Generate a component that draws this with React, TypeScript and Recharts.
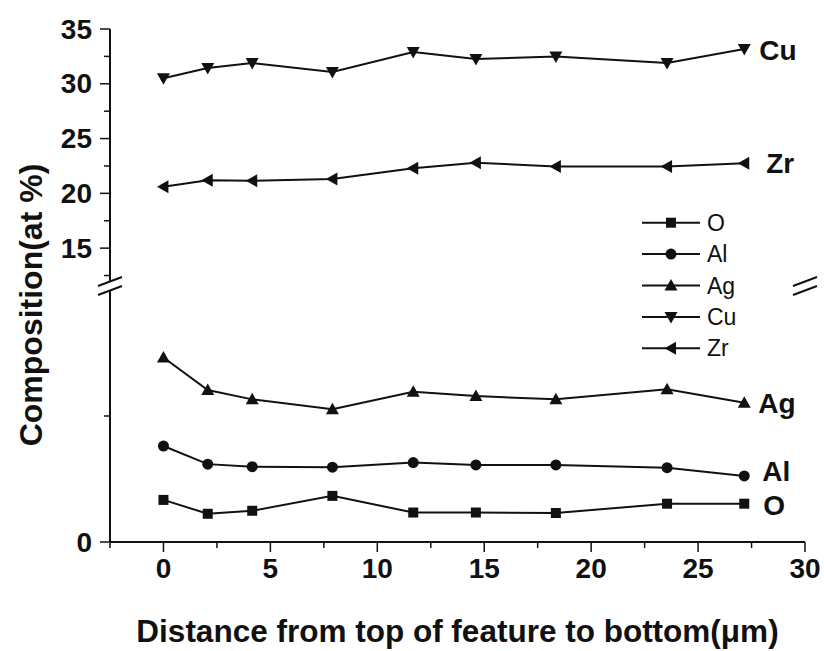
import React from "react";
import { LineChart, Line, XAxis, YAxis, LabelList } from "recharts";

// distance from top of feature (µm) and composition (at %)
const distance = [0, 2.07, 4.15, 7.9, 11.68, 14.61, 18.35, 23.55, 27.16];
const oxygen = [1.67, 1.12, 1.24, 1.83, 1.17, 1.17, 1.15, 1.52, 1.52];
const aluminium = [3.81, 3.09, 2.99, 2.97, 3.15, 3.06, 3.06, 2.95, 2.62];
const silver = [7.32, 6.03, 5.66, 5.27, 5.96, 5.79, 5.66, 6.06, 5.53];
const copper = [30.5, 31.44, 31.9, 31.07, 32.9, 32.26, 32.5, 31.9, 33.17];
const zirconium = [20.6, 21.2, 21.15, 21.3, 22.3, 22.8, 22.44, 22.44, 22.75];

const upperTicks = [12.5, 15, 17.5, 20, 22.5, 25, 27.5, 30, 32.5, 35];
const upperLabels = [15, 20, 25, 30, 35];
const lowerTicks = [0, 5];
const lowerLabels = [0];
const xTicks = [-2.5, 0, 2.5, 5, 7.5, 10, 12.5, 15, 17.5, 20, 22.5, 25, 27.5, 30];
const xLabels = [0, 5, 10, 15, 20, 25, 30];
const legendOrder = ["O", "Al", "Ag", "Cu", "Zr"];

const upperData = distance.map((d, i) => ({ distance: d, Cu: copper[i], Zr: zirconium[i] }));
const lowerData = distance.map((d, i) => ({ distance: d, O: oxygen[i], Al: aluminium[i], Ag: silver[i] }));

const FONT = '"Liberation Sans", Arial, Helvetica, sans-serif';
const INK = "#111";

type Shape = "square" | "circle" | "up" | "down" | "left";
const shapes: Record<string, Shape> = { O: "square", Al: "circle", Ag: "up", Cu: "down", Zr: "left" };
// where the bold name sits next to the last point
const endLabel: Record<string, { dx: number; dy: number }> = {
  Cu: { dx: 15, dy: 1 },
  Zr: { dx: 22, dy: 0 },
  Ag: { dx: 14, dy: 1 },
  Al: { dx: 18, dy: -4 },
  O: { dx: 19, dy: 2 },
};

function Marker({ shape, cx, cy }: { shape: Shape; cx: number; cy: number }) {
  if (shape === "square") return <rect x={cx - 5} y={cy - 5} width={10} height={10} fill={INK} />;
  if (shape === "circle") return <circle cx={cx} cy={cy} r={5.5} fill={INK} />;
  let pts = "";
  if (shape === "up") pts = `${cx},${cy - 6.5} ${cx - 6.5},${cy + 5} ${cx + 6.5},${cy + 5}`;
  if (shape === "down") pts = `${cx},${cy + 6.5} ${cx - 6.5},${cy - 5} ${cx + 6.5},${cy - 5}`;
  if (shape === "left") pts = `${cx - 6.5},${cy} ${cx + 5},${cy - 6.5} ${cx + 5},${cy + 6.5}`;
  return <polygon points={pts} fill={INK} />;
}

const dotFor = (name: string) => (props: any) => {
  const { cx, cy, index } = props;
  if (cx == null || cy == null) return <g key={`${name}-${index}`} />;
  return (
    <g key={`${name}-${index}`}>
      <Marker shape={shapes[name]} cx={cx} cy={cy} />
    </g>
  );
};

const endLabelFor = (name: string) => (props: any) => {
  const { x, y, index } = props;
  if (index !== distance.length - 1) return null;
  const o = endLabel[name];
  return (
    <text x={x + o.dx} y={y + o.dy} dominantBaseline="central" fill={INK}
      fontFamily={FONT} fontWeight={700} fontSize={28}>
      {name}
    </text>
  );
};

function YTick({ x, y, payload, labels }: any) {
  const v = payload.value;
  const major = labels.includes(v);
  return (
    <g>
      <line x1={x - (major ? 10 : 6)} x2={x} y1={y} y2={y} stroke={INK} strokeWidth={1.5} />
      {major && (
        <text x={x - 18} y={y} dy={9.5} textAnchor="end" fill={INK}
          fontFamily={FONT} fontWeight={700} fontSize={28}>
          {v}
        </text>
      )}
    </g>
  );
}

function XTick({ x, y, payload }: any) {
  const v = payload.value;
  const major = xLabels.includes(v);
  return (
    <g>
      <line x1={x} x2={x} y1={y} y2={y + (major ? 10 : 6)} stroke={INK} strokeWidth={1.5} />
      {major && (
        <text x={x} y={y + 36} textAnchor="middle" fill={INK}
          fontFamily={FONT} fontWeight={700} fontSize={28}>
          {v}
        </text>
      )}
    </g>
  );
}

const frame = { stroke: INK, strokeWidth: 2 };

function seriesLine(name: string) {
  return (
    <Line key={name} xAxisId="x" yAxisId="y" type="linear" dataKey={name} name={name}
      stroke={INK} strokeWidth={2} dot={dotFor(name)} activeDot={false}
      isAnimationActive={false}>
      <LabelList dataKey={name} content={endLabelFor(name)} />
    </Line>
  );
}

export default function App() {
  return (
    <div style={{ position: "absolute", left: 0, top: 0, width: 824, height: 651, background: "#fff", overflow: "hidden" }}>
      <div style={{ position: "absolute", left: 0, top: 0 }}>
        <LineChart width={824} height={281} data={upperData} margin={{ top: 29, right: 19, bottom: 0, left: 0 }}>
          <XAxis xAxisId="x" type="number" dataKey="distance" domain={[-2.5, 30]} orientation="top"
            height={0} tick={false} tickLine={false} axisLine={frame} />
          <YAxis yAxisId="y" type="number" domain={[12, 35]} ticks={upperTicks} interval={0}
            width={110} tickSize={0} tickMargin={0} tickLine={false}
            tick={<YTick labels={upperLabels} />} axisLine={frame} />
          <YAxis yAxisId="r" orientation="right" type="number" domain={[0, 1]} width={0}
            tick={false} tickLine={false} axisLine={frame} />
          {["Cu", "Zr"].map(seriesLine)}
        </LineChart>
      </div>
      <div style={{ position: "absolute", left: 0, top: 290 }}>
        <LineChart width={824} height={361} data={lowerData} margin={{ top: 0, right: 19, bottom: 0, left: 0 }}>
          <XAxis xAxisId="x" type="number" dataKey="distance" domain={[-2.5, 30]} ticks={xTicks}
            interval={0} height={109} tickSize={0} tickMargin={0} tickLine={false} tick={<XTick />}
            axisLine={frame}
            label={{
              value: "Distance from top of feature to bottom(\u03bcm)", position: "insideBottom", offset: 9,
              fill: INK, fontSize: 31.5, fontWeight: 700, fontFamily: FONT,
            }} />
          <YAxis yAxisId="y" type="number" domain={[0, 10]} ticks={lowerTicks} interval={0}
            width={110} tickSize={0} tickMargin={0} tickLine={false}
            tick={<YTick labels={lowerLabels} />} axisLine={frame} />
          <YAxis yAxisId="r" orientation="right" type="number" domain={[0, 1]} width={0}
            tick={false} tickLine={false} axisLine={frame} />
          {["O", "Al", "Ag"].map(seriesLine)}
        </LineChart>
      </div>

      <svg width={824} height={651} style={{ position: "absolute", left: 0, top: 0, pointerEvents: "none" }}>
        {/* axis breaks */}
        {[110, 805].map((bx) => (
          <g key={bx}>
            <polygon points={`${bx - 12},${286} ${bx + 12},${277} ${bx + 12},${286} ${bx - 12},${295}`} fill="#fff" />
            <line x1={bx - 12} y1={286} x2={bx + 12} y2={277} stroke={INK} strokeWidth={2} />
            <line x1={bx - 12} y1={295} x2={bx + 12} y2={286} stroke={INK} strokeWidth={2} />
          </g>
        ))}
        <text x={42} y={305} transform="rotate(-90, 42, 305)" textAnchor="middle" fill={INK}
          fontFamily={FONT} fontWeight={700} fontSize={32}>
          Composition(at %)
        </text>
        {/* legend */}
        {legendOrder.map((name, i) => {
          const ly = 222.7 + i * 31.4;
          return (
            <g key={name}>
              <line x1={642} x2={700} y1={ly} y2={ly} stroke={INK} strokeWidth={2} />
              <Marker shape={shapes[name]} cx={671} cy={ly} />
              <text x={707} y={ly} dominantBaseline="central" fill={INK} fontFamily={FONT} fontSize={23}>
                {name}
              </text>
            </g>
          );
        })}
      </svg>
    </div>
  );
}
